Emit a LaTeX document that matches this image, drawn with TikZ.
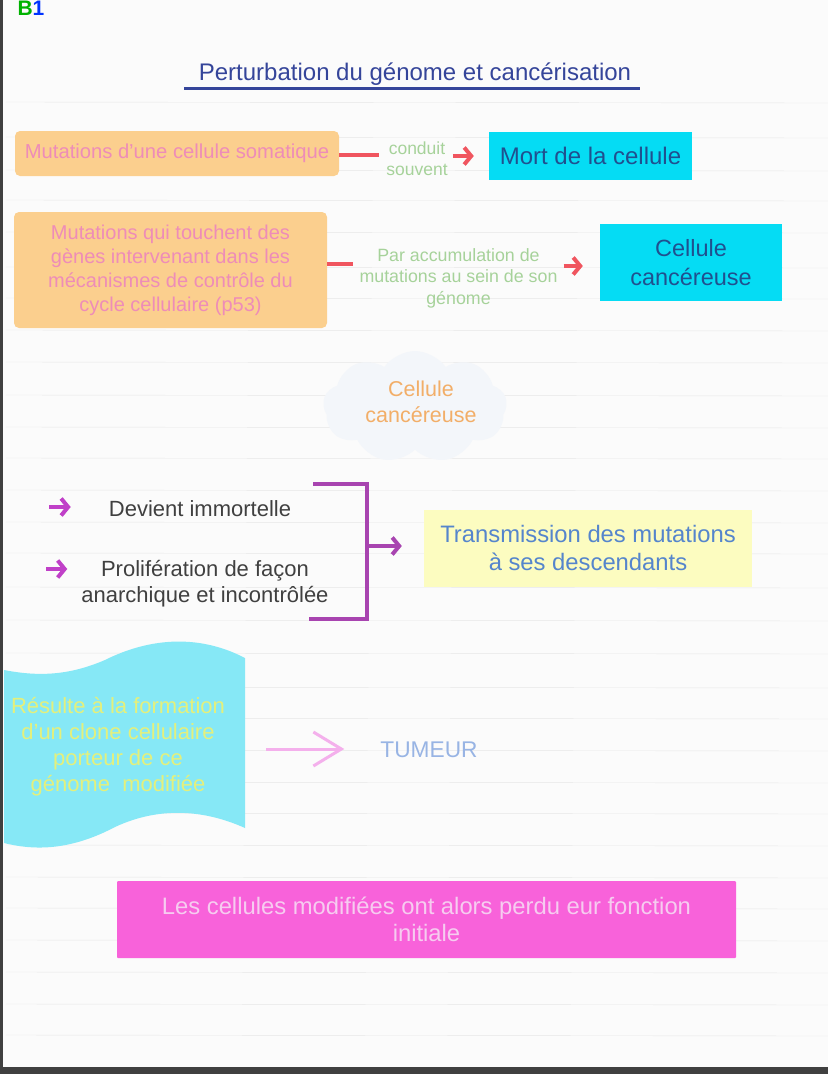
\documentclass[tikz,border=0pt]{standalone}
\usepackage{fontspec}
\setmainfont{Liberation Sans}
\usetikzlibrary{arrows.meta,shapes.symbols}
\definecolor{papier}{HTML}{FBFBFB}
\definecolor{ligne}{HTML}{E6E6E6}
\definecolor{orangeboite}{HTML}{FBCF8E}
\definecolor{roseTexte}{HTML}{EE8CB8}
\definecolor{cyanboite}{HTML}{05DCF4}
\definecolor{bleuTexte}{HTML}{20508F}
\definecolor{vertTexte}{HTML}{A6D29A}
\definecolor{rouge}{HTML}{F0555F}
\definecolor{violet}{HTML}{A844B0}
\definecolor{magenta}{HTML}{C040C8}
\definecolor{jauneboite}{HTML}{FCFCC0}
\definecolor{bleuMoyen}{HTML}{5585CC}
\definecolor{cyanvague}{HTML}{86E8F6}
\definecolor{jauneTexte}{HTML}{E4F07C}
\definecolor{roseboite}{HTML}{F862DA}
\definecolor{titre}{HTML}{35459A}
\definecolor{nuageFond}{HTML}{F3F6FA}
\definecolor{orangeTexte}{HTML}{F2AE68}
\definecolor{roseFleche}{HTML}{F4B0EC}
\definecolor{bleuPale}{HTML}{98B4E4}
\definecolor{roseClair}{HTML}{F6CCF0}
\tikzset{
  texte/.style 2 args={font=\fontsize{#1}{#2}\selectfont,align=center,inner sep=0pt},
  boite/.style={inner sep=0pt,align=center},
  tiret/.style={rouge,line width=3.5pt},
  fleche/.style={line width=3.5pt,-{Straight Barb[length=7pt,width=17pt,line width=4pt]}},
}
\begin{document}
\begin{tikzpicture}[x=1pt,y=-1pt]
\useasboundingbox (0,0) rectangle (828,1074);
\fill[papier] (0,0) rectangle (828,1074);
\foreach\y in {102,137,170,200,232,267,298,330,362,395,427,458,490,522,553,587,620,653,687,718,750,782,813,845,877,908,940,972,1004,1035}
{
\draw[ligne] (6,\y) -- (828,\y+1);
}
\fill[black!75] (0,0) rectangle (3,1074);
\fill[black!75] (0,1067) rectangle (828,1074);

\node[texte={21}{24}] (num) at (31,8.5) {\textbf{\textcolor{green!70!black}{B}\textcolor{blue!80!cyan}{1}}};
\node[texte={24}{28},text=titre] (titre) at (415,74) {Perturbation du génome et cancérisation};
\coordinate (souligneA) at (184,88);
\coordinate (souligneB) at (640,88);
\draw[titre,line width=3pt] (souligneA) -- (souligneB);

% les deux lignes du haut
\node[boite,fill=orangeboite,rounded corners=5pt,minimum width=324pt,minimum height=45pt,text=roseTexte,font=\fontsize{20.2}{24}\selectfont] (somatique) at (177,153.5) {Mutations d'une cellule somatique};
\node[texte={17.5}{21},text=vertTexte,inner xsep=13pt] (conduit) at (417,159) {conduit\\souvent};
\node[boite,fill=cyanboite,minimum width=203pt,minimum height=48pt,text=bleuTexte,font=\fontsize{24}{29}\selectfont] (mort) at (590.5,156) {Mort de la cellule};
\draw[tiret,shorten >=-6pt] (somatique.east |- 0,155) -- (conduit.west |- 0,155);
\draw[fleche,rouge,shorten >=15pt,shorten <=-8pt] (conduit.east |- mort.west) -- (mort.west);

\node[boite,fill=orangeboite,rounded corners=5pt,minimum width=313pt,minimum height=116pt,text=roseTexte,font=\fontsize{20}{24}\selectfont] (controle) at (170.5,270) {Mutations qui touchent des\\gènes intervenant dans les\\mécanismes de contrôle du\\cycle cellulaire (p53)};
\node[texte={17.8}{21.5},text=vertTexte,inner xsep=6pt] (accumul) at (458.5,278) {Par accumulation de\\mutations au sein de son\\génome};
\node[boite,fill=cyanboite,minimum width=182pt,minimum height=77pt,text=bleuTexte,font=\fontsize{23.5}{29}\selectfont] (cancer) at (691,262.5) {Cellule\\cancéreuse};
\draw[tiret] (controle.east |- 0,264) -- (accumul.west |- 0,264);
\draw[fleche,rouge,shorten >=17pt] (accumul.east |- 0,266) -- (cancer.west |- 0,266);

% le nuage
\node[cloud,cloud puffs=9,cloud puff arc=110,aspect=1.5,fill=nuageFond,minimum width=184pt,minimum height=112pt,inner sep=0pt] (nuage) at (415,407) {};
\node[texte={21.5}{26},text=orangeTexte] (cellule) at (421,402) {Cellule\\cancéreuse};

% accolade violette
\node[texte={22}{26},text=black!75] (immortelle) at (200,509) {Devient immortelle};
\node[texte={22}{26},text=black!75] (prolif) at (205,584) {Prolifération de façon\\anarchique et incontrôlée};
\coordinate (flecheA) at (49,507);
\coordinate (flecheB) at (46,569);
\draw[fleche,magenta,shorten >=38pt] (flecheA) -- (immortelle.west |- flecheA);
\draw[fleche,magenta,shorten >=14pt] (flecheB) -- (prolif.west |- flecheB);
\coordinate (hautA) at (313,484);
\coordinate (hautB) at (367,484);
\coordinate (basA) at (309,619);
\coordinate (basB) at (367,619);
\coordinate (milieu) at (367,546);
\draw[violet,line width=3.5pt] (hautA) -- (hautB) -- (basB) -- (basA);
\node[boite,fill=jauneboite,minimum width=328pt,minimum height=77pt,text=bleuMoyen,font=\fontsize{23.8}{28}\selectfont] (transmission) at (588,548) {Transmission des mutations\\à ses descendants};
\draw[fleche,violet,shorten >=22pt] (milieu) -- (transmission.west |- milieu);

% la vague
\fill[cyanvague] (4,670) .. controls (40,677) and (70,675) .. (105,660)
  .. controls (145,640) and (195,632) .. (245,658) -- (245,828)
  .. controls (205,810) and (160,806) .. (115,827)
  .. controls (75,848) and (40,852) .. (4,843) -- cycle;
\node[texte={22}{26},text=jauneTexte] (clone) at (118,747) {Résulte à la formation\\d'un clone cellulaire\\porteur de ce\\génome\ \ modifiée};
\node[texte={22.7}{26},text=bleuPale,inner xsep=0pt] (tumeur) at (429,750) {TUMEUR};
\coordinate (flecheC) at (266,749);
\draw[line width=3pt,roseFleche,-{Straight Barb[length=28pt,width=34pt]},shorten >=36pt] (flecheC) -- (tumeur.west |- flecheC);

\node[boite,fill=roseboite,minimum width=619pt,minimum height=77pt,text=roseClair,rounded corners=1pt,font=\fontsize{23.8}{27}\selectfont] (perdu) at (426.5,919.5) {Les cellules modifiées ont alors perdu eur fonction\\initiale};
\end{tikzpicture}
\end{document}
